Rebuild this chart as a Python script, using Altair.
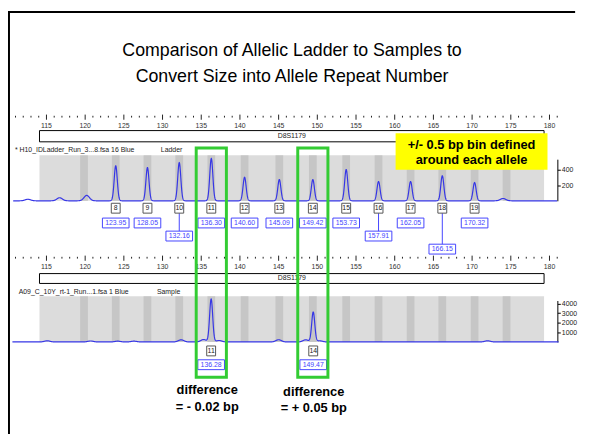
import altair as alt
import numpy as np
import pandas as pd

# ---------------- values ----------------
title_lines = ["Comparison of Allelic Ladder to Samples to",
               "Convert Size into Allele Repeat Number"]
note_lines = ["+/- 0.5 bp bin defined", "around each allele"]
locus_name = "D8S1179"
locus_start = 114.1
locus_end = 179.3

ladder_name = "* H10_IDLadder_Run_3...8.fsa 16 Blue"
ladder_type = "Ladder"
ladder_alleles = ["8", "9", "10", "11", "12", "13", "14", "15", "16", "17", "18", "19"]
ladder_sizes = [123.95, 128.05, 132.16, 136.30, 140.60, 145.09, 149.42, 153.73, 157.91, 162.05, 166.15, 170.32]
ladder_heights = [455, 430, 495, 550, 305, 275, 275, 405, 250, 250, 325, 237]
ladder_label_tier = [0, 0, 1, 0, 0, 0, 0, 0, 1, 0, 2, 0]
ladder_minor_sizes = [112.6, 116.7, 120.2, 174.0]
ladder_minor_heights = [20, 40, 70, 30]
ladder_panel_max = 590
ladder_axis_max = 540
ladder_axis_ticks = [200, 400]

sample_name = "A09_C_10Y_rt-1_Run...1.fsa 1 Blue"
sample_type = "Sample"
sample_alleles = ["11", "14"]
sample_sizes = [136.28, 149.47]
sample_heights = [4450, 3100]
sample_minor_sizes = [115.1, 120.7, 124.2, 126.3, 132.4, 135.3, 137.3, 145.0, 148.5, 150.3, 172.0]
sample_minor_heights = [120, 100, 80, 80, 220, 250, 150, 230, 220, 120, 120]
sample_panel_max = 4740
sample_axis_max = 4300
sample_axis_ticks = [1000, 2000, 3000, 4000]

bin_centers = [119.85] + ladder_sizes + [174.45]
bin_half_width = 0.5
ruler_ticks = list(range(111, 182))
ruler_labels = list(range(115, 181, 5))

# ---------------- styling / layout ----------------
FONT = "Liberation Sans"
BLUE = "#3636e6"
LBLUE = "#4444ff"
GREEN = "#33cc33"
W, H = 575, 429
XS = alt.Scale(domain=[110.03, 183.31], nice=False, zero=False)
BOX_A = "M-0.9,-1H0.9V1H-0.9Z"
BOX_S = "M-1,-0.37H1V0.37H-1Z"


def xenc(f):
    return alt.X(f, scale=XS, axis=None)


def rfu_scale(dmax, base, k):
    return alt.Scale(domain=[0, dmax], range=[base, base - dmax / k], nice=False, zero=False)


def text(t, x, y, size, bold=False, color="black", align="center", baseline="middle"):
    return alt.Chart(pd.DataFrame({"t": [t]})).mark_text(
        fontSize=size, font=FONT, fontWeight="bold" if bold else "normal",
        color=color, align=align, baseline=baseline
    ).encode(text="t:N", x=alt.value(x), y=alt.value(y))


def trace_df(sizes, heights, msizes, mheights, lo, hi):
    xs = np.round(np.arange(lo, hi, 0.02), 3)
    y = np.zeros_like(xs)
    for s, h in zip(sizes, heights):
        y += h * np.exp(-0.5 * ((xs - s) / 0.2) ** 2)
    for s, h in zip(msizes, mheights):
        y += h * np.exp(-0.5 * ((xs - s) / 0.35) ** 2)
    return pd.DataFrame({"bp": xs, "rfu": y})


def ruler(mid):
    df = pd.DataFrame({"bp": ruler_ticks})
    df["major"] = df["bp"] % 5 == 0
    base = alt.Chart(df)
    minor = base.transform_filter("!datum.major").mark_rule(color="#222", strokeWidth=1).encode(
        x=xenc("bp:Q"), y=alt.value(mid - 1), y2=alt.value(mid + 0.8))
    major = base.transform_filter("datum.major").mark_rule(color="#222", strokeWidth=1).encode(
        x=xenc("bp:Q"), y=alt.value(mid - 2.2), y2=alt.value(mid + 3))
    labs = alt.Chart(pd.DataFrame({"bp": ruler_labels})).mark_text(
        fontSize=7, font=FONT, color="#333", baseline="middle").encode(
        x=xenc("bp:Q"), y=alt.value(mid + 9), text="bp:Q")
    return [minor, major, labs]


def locus_box(top, bottom):
    df = pd.DataFrame({"s": [locus_start], "e": [locus_end], "name": [locus_name],
                       "mid": [(locus_start + locus_end) / 2]})
    box = alt.Chart(df).mark_rect(fill="white", stroke="black", strokeWidth=1).encode(
        x=xenc("s:Q"), x2="e:Q", y=alt.value(top), y2=alt.value(bottom))
    lab = alt.Chart(df).mark_text(fontSize=7, font=FONT, color="#222").encode(
        x=xenc("mid:Q"), y=alt.value((top + bottom) / 2), text="name:N")
    return [box, lab]


def panel(base, k, pmax, dmax, ticks, tr):
    sc = rfu_scale(pmax, base, k)
    pdf = pd.DataFrame({"s": [locus_start], "e": [locus_end], "lo": [0], "hi": [pmax]})
    bg = alt.Chart(pdf).mark_rect(fill="#dcdcdc").encode(
        x=xenc("s:Q"), x2="e:Q", y=alt.Y("lo:Q", scale=sc, axis=None), y2="hi:Q")
    bins = alt.Chart(pd.DataFrame({"c": bin_centers})).transform_calculate(
        a=f"datum.c - {bin_half_width}", b=f"datum.c + {bin_half_width}", lo="0", hi=str(pmax)
    ).mark_rect(fill="#c6c6c6").encode(
        x=xenc("a:Q"), x2="b:Q", y=alt.Y("lo:Q", scale=sc, axis=None), y2="hi:Q")
    line = alt.Chart(tr).mark_line(color=BLUE, strokeWidth=1.2).encode(
        x=xenc("bp:Q"),
        y=alt.Y("rfu:Q", scale=rfu_scale(dmax, base, k),
                axis=alt.Axis(orient="right", offset=-18, values=ticks, tickSize=3, format="d",
                              labelFontSize=7, labelFont=FONT, labelColor="#222",
                              domainColor="black", tickColor="black", labelPadding=1,
                              title=None, grid=False, labelFlush=False, labelOverlap=False)))
    return [bg, bins, line]


layers = []
# slide border
one = pd.DataFrame({"a": [0]})
layers.append(alt.Chart(one).mark_rule(color="black", strokeWidth=2).encode(
    x=alt.value(1), y=alt.value(0), y2=alt.value(H)))
layers.append(alt.Chart(one).mark_rule(color="black", strokeWidth=2).encode(
    x=alt.value(0), x2=alt.value(W), y=alt.value(1)))

# title
layers.append(text(title_lines[0], 288, 46, 18, baseline="alphabetic"))
layers.append(text(title_lines[1], 288, 72, 18, baseline="alphabetic"))

# ---- ladder panel ----
layers += ruler(107.3)
layers += locus_box(121.3, 132.7)
layers.append(text(ladder_name, 7, 141, 7, color="#222", align="left"))
layers.append(text(ladder_type, 155, 141, 7, color="#222", align="left"))
layers += panel(192.5, 12.8, ladder_panel_max, ladder_axis_max, ladder_axis_ticks,
                trace_df(ladder_sizes, ladder_heights, ladder_minor_sizes, ladder_minor_heights, 110.7, 181.0))

lab = pd.DataFrame({"allele": ladder_alleles, "size": ladder_sizes, "tier": ladder_label_tier})
lab["size_txt"] = lab["size"].map(lambda v: f"{v:.2f}")
tier_sc = alt.Scale(domain=[0, 2], range=[215, 241.5], nice=False, zero=False)
lc = alt.Chart(lab)
layers.append(lc.transform_filter("datum.tier > 0").mark_rule(color=LBLUE, strokeWidth=1).encode(
    x=xenc("size:Q"), y=alt.Y("tier:Q", scale=tier_sc, axis=None), y2=alt.value(205)))
layers.append(lc.mark_point(shape=BOX_A, size=100, filled=True, fill="white", opacity=1,
                            stroke="#555", strokeWidth=1).encode(x=xenc("size:Q"), y=alt.value(200)))
layers.append(lc.mark_text(fontSize=7, font=FONT, color="#222").encode(
    x=xenc("size:Q"), y=alt.value(200), text="allele:N"))
layers.append(lc.mark_point(shape=BOX_S, size=729, filled=True, fill="white", opacity=1,
                            stroke=LBLUE, strokeWidth=1).encode(
    x=xenc("size:Q"), y=alt.Y("tier:Q", scale=tier_sc, axis=None)))
layers.append(lc.mark_text(fontSize=7, font=FONT, color=LBLUE).encode(
    x=xenc("size:Q"), y=alt.Y("tier:Q", scale=tier_sc, axis=None), text="size_txt:N"))

# ---- sample panel ----
layers += ruler(250.3)
layers += locus_box(266.3, 276.3)
layers.append(text(sample_name, 10.8, 284.7, 7, color="#222", align="left"))
layers.append(text(sample_type, 151, 284.7, 7, color="#222", align="left"))
layers += panel(335.6, 102.4, sample_panel_max, sample_axis_max, sample_axis_ticks,
                trace_df(sample_sizes, sample_heights, sample_minor_sizes, sample_minor_heights, 110.6, 181.2))

slab = pd.DataFrame({"allele": sample_alleles, "size": sample_sizes})
slab["size_txt"] = slab["size"].map(lambda v: f"{v:.2f}")
sc_ = alt.Chart(slab)
layers.append(sc_.mark_point(shape=BOX_A, size=100, filled=True, fill="white", opacity=1,
                             stroke="#555", strokeWidth=1).encode(x=xenc("size:Q"), y=alt.value(344.7)))
layers.append(sc_.mark_text(fontSize=7, font=FONT, color="#222").encode(
    x=xenc("size:Q"), y=alt.value(344.7), text="allele:N"))
layers.append(sc_.mark_point(shape=BOX_S, size=729, filled=True, fill="white", opacity=1,
                             stroke=LBLUE, strokeWidth=1).encode(x=xenc("size:Q"), y=alt.value(358.7)))
layers.append(sc_.mark_text(fontSize=7, font=FONT, color=LBLUE).encode(
    x=xenc("size:Q"), y=alt.value(358.7), text="size_txt:N"))

# ---- yellow note ----
layers.append(alt.Chart(one).mark_rect(fill="#ffff00").encode(
    x=alt.value(393), x2=alt.value(547), y=alt.value(124), y2=alt.value(161)))
layers.append(text(note_lines[0], 470, 135.5, 13, bold=True))
layers.append(text(note_lines[1], 470, 151.5, 13, bold=True))

# ---- green highlight boxes around matching ladder alleles ----
hl = pd.DataFrame({"size": [ladder_sizes[ladder_alleles.index(a)] for a in sample_alleles]})
layers.append(alt.Chart(hl).transform_calculate(a="datum.size - 1.95", b="datum.size + 1.95").mark_rect(
    fillOpacity=0, stroke=GREEN, strokeWidth=3).encode(
    x=xenc("a:Q"), x2="b:Q", y=alt.value(139), y2=alt.value(371.3)))

# ---- differences (sample size - ladder size) ----
diff_x = [202, 310]
diff_y = [384.7, 386.5]
for a, s, dx, dy in zip(sample_alleles, sample_sizes, diff_x, diff_y):
    d = round(s - ladder_sizes[ladder_alleles.index(a)], 2)
    sign = "+" if d >= 0 else "-"
    layers.append(text("difference", dx, dy, 13, bold=True))
    layers.append(text(f"= {sign} {abs(d):.2f} bp", dx, dy + 16.5, 13, bold=True))

chart = alt.layer(*layers).resolve_scale(y="independent").properties(
    width=W, height=H,
    autosize=alt.AutoSizeParams(type="none"),
    padding={"left": 0, "top": 0, "right": 8, "bottom": 0},
    background="white",
).configure_view(stroke=None)

chart.save("out.html", embed_options={"renderer": "svg", "actions": False})
